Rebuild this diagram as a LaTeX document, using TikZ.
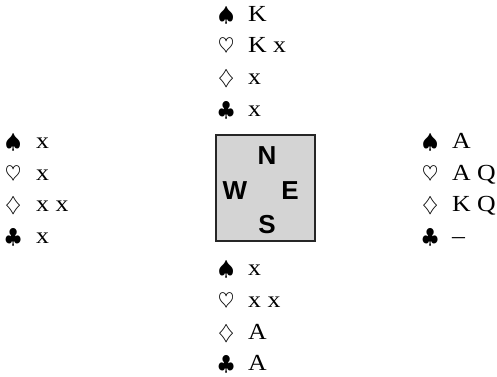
\documentclass[tikz,border=0pt]{standalone}
\usepackage{fontspec}
\setmainfont{Liberation Serif}[FakeStretch=1.12]
\newfontfamily\dirfont{Liberation Sans}
\begin{document}
\begin{tikzpicture}[x=1pt,y=-1pt,
  suitsym/.style={anchor=base west,inner sep=0pt,font=\fontsize{20}{20}\selectfont},
  holding/.style={anchor=base west,inner sep=0pt,font=\fontsize{23}{23}\selectfont},
  dirlabel/.style={inner sep=0pt,font=\dirfont\bfseries\fontsize{26}{26}\selectfont},
  table/.style={draw=black!85,line width=1.1pt,fill=black!17}]
\useasboundingbox (0,0) rectangle (497,376);
% box
\node[table,minimum width=99pt,minimum height=106pt,inner sep=0pt] (box) at (265.5,188) {};
\node[dirlabel] (N) at (267,156) {N};
\node[dirlabel] (W) at (235,191) {W};
\node[dirlabel] (E) at (290,191) {E};
\node[dirlabel] (S) at (267,225) {S};
% North
\node[suitsym] (ns) at (218,{21+31.8*0}) {$\spadesuit$};
\node[holding] (nst) at (248,{21+31.8*0}) {K};
\node[suitsym] (nh) at (218,{21+31.8*1}) {$\heartsuit$};
\node[holding] (nht) at (248,{21+31.8*1}) {K x};
\node[suitsym] (nd) at (218,{21+31.8*2}) {$\diamondsuit$};
\node[holding] (ndt) at (248,{21+31.8*2}) {x};
\node[suitsym] (nc) at (218,{21+31.8*3}) {$\clubsuit$};
\node[holding] (nct) at (248,{21+31.8*3}) {x};
% West
\node[suitsym] (ws) at (5,{21+31.8*4}) {$\spadesuit$};
\node[holding] (wst) at (36,{21+31.8*4}) {x};
\node[suitsym] (wh) at (5,{21+31.8*5}) {$\heartsuit$};
\node[holding] (wht) at (36,{21+31.8*5}) {x};
\node[suitsym] (wd) at (5,{21+31.8*6}) {$\diamondsuit$};
\node[holding] (wdt) at (36,{21+31.8*6}) {x x};
\node[suitsym] (wc) at (5,{21+31.8*7}) {$\clubsuit$};
\node[holding] (wct) at (36,{21+31.8*7}) {x};
% East
\node[suitsym] (es) at (422,{21+31.8*4}) {$\spadesuit$};
\node[holding] (est) at (452,{21+31.8*4}) {A};
\node[suitsym] (eh) at (422,{21+31.8*5}) {$\heartsuit$};
\node[holding] (eht) at (452,{21+31.8*5}) {A Q};
\node[suitsym] (ed) at (422,{21+31.8*6}) {$\diamondsuit$};
\node[holding] (edt) at (452,{21+31.8*6}) {K Q};
\node[suitsym] (ec) at (422,{21+31.8*7}) {$\clubsuit$};
\node[holding] (ect) at (452,{21+31.8*7}) {--};
% South
\node[suitsym] (ss) at (218,{21+31.8*8}) {$\spadesuit$};
\node[holding] (sst) at (248,{21+31.8*8}) {x};
\node[suitsym] (sh) at (218,{21+31.8*9}) {$\heartsuit$};
\node[holding] (sht) at (248,{21+31.8*9}) {x x};
\node[suitsym] (sd) at (218,{21+31.8*10}) {$\diamondsuit$};
\node[holding] (sdt) at (248,{21+31.8*10}) {A};
\node[suitsym] (sc) at (218,{21+31.8*11}) {$\clubsuit$};
\node[holding] (sct) at (248,{21+31.8*11}) {A};
\end{tikzpicture}
\end{document}
